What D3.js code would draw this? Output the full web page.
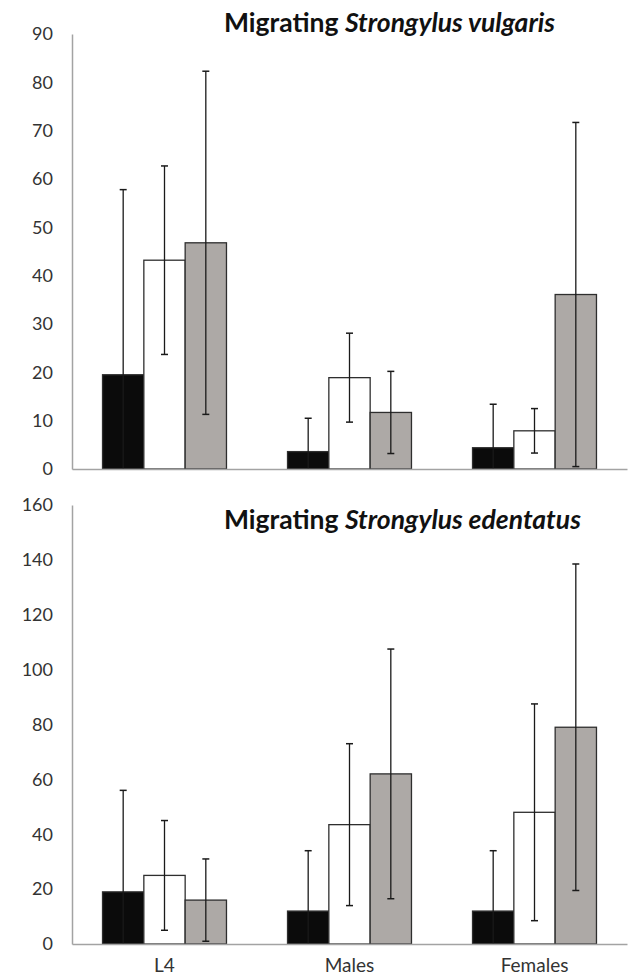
<!DOCTYPE html>
<html>
<head>
<meta charset="utf-8">
<script src="https://cdn.jsdelivr.net/npm/d3@7"></script>
<style>
  body { margin: 0; background: #fff; }
  svg { display: block; }
</style>
</head>
<body>
<svg id="chart" width="631" height="978"></svg>
<script>
// categories on the x axis (shared by both panels)
const categories = ["L4", "Males", "Females"];
// three groups per category: black, white, grey bars (no legend in the figure)
const seriesNames = ["Group 1", "Group 2", "Group 3"];

// S. vulgaris: means and error (±) per category, in series order
const vulgarisMeans  = [[19.5, 43.2, 46.8], [3.6, 18.9, 11.7], [4.4, 7.9, 36.1]];
const vulgarisErrors = [[38.3, 19.5, 35.5], [6.9, 9.2, 8.5], [9.0, 4.6, 35.6]];
const vulgarisTicks  = [0, 10, 20, 30, 40, 50, 60, 70, 80, 90];

// S. edentatus
const edentatusMeans  = [[19, 25, 16], [12, 43.5, 62], [12, 48, 79]];
const edentatusErrors = [[37, 20, 15], [22, 29.5, 45.5], [22, 39.5, 59.5]];
const edentatusTicks  = [0, 20, 40, 60, 80, 100, 120, 140, 160];

const fills = ["#0b0b0b", "#ffffff", "#ada9a6"];
const axisColor = "#a3a3a3";
const textColor = "#333";

const svg = d3.select("#chart");

function drawPanel(opts) {
  const { top, bottom, left, right, means, errors, ticks, title, titleY, showLabels } = opts;

  const x = d3.scaleBand()
    .domain(categories)
    .range([left, right])
    .paddingInner(0.33)
    .paddingOuter(0.165);

  const xs = d3.scaleBand()
    .domain(seriesNames)
    .range([0, x.bandwidth()]);

  const y = d3.scaleLinear()
    .domain([0, d3.max(ticks)])
    .range([bottom, top]);

  const g = svg.append("g");

  // flatten to one record per bar
  const rows = [];
  categories.forEach((cat, ci) => {
    seriesNames.forEach((s, si) => {
      rows.push({ cat, s, si, mean: means[ci][si], err: errors[ci][si] });
    });
  });

  g.selectAll("rect.bar")
    .data(rows)
    .join("rect")
    .attr("class", "bar")
    .attr("x", d => x(d.cat) + xs(d.s))
    .attr("y", d => y(d.mean))
    .attr("width", xs.bandwidth())
    .attr("height", d => y(0) - y(d.mean))
    .attr("fill", (d) => fills[d.si])
    .attr("stroke", "#2e2e2e")
    .attr("stroke-width", 1.3);

  // error bars, cut at the axis like excel does
  const capW = 3.5;
  const eb = g.selectAll("g.err")
    .data(rows)
    .join("g")
    .attr("class", "err")
    .attr("transform", d => `translate(${x(d.cat) + xs(d.s) + xs.bandwidth() / 2},0)`);

  eb.append("line")
    .attr("y1", d => y(Math.max(0, d.mean - d.err)))
    .attr("y2", d => y(d.mean + d.err))
    .attr("stroke", "#1a1a1a")
    .attr("stroke-width", 1.3);

  eb.append("line")
    .attr("x1", -capW).attr("x2", capW)
    .attr("y1", d => y(d.mean + d.err))
    .attr("y2", d => y(d.mean + d.err))
    .attr("stroke", "#1a1a1a")
    .attr("stroke-width", 1.5);

  eb.filter(d => d.mean - d.err >= 0)
    .append("line")
    .attr("x1", -capW).attr("x2", capW)
    .attr("y1", d => y(d.mean - d.err))
    .attr("y2", d => y(d.mean - d.err))
    .attr("stroke", "#1a1a1a")
    .attr("stroke-width", 1.5);

  // y axis
  const yAxis = g.append("g")
    .attr("transform", `translate(${left},0)`)
    .call(d3.axisLeft(y).tickValues(ticks).tickSize(0).tickSizeOuter(0).tickPadding(19));
  yAxis.select(".domain").attr("stroke", axisColor).attr("stroke-width", 1.5);
  yAxis.selectAll("text")
    .attr("font-family", "Lato, sans-serif")
    .attr("font-size", 18)
    .attr("fill", textColor);

  // x axis
  const xAxis = g.append("g")
    .attr("transform", `translate(0,${bottom})`)
    .call(d3.axisBottom(x).tickSize(0).tickSizeOuter(0).tickPadding(15));
  xAxis.select(".domain").attr("stroke", axisColor).attr("stroke-width", 1.5);
  xAxis.selectAll("text")
    .attr("font-family", "Lato, sans-serif")
    .attr("font-size", 19)
    .attr("fill", textColor)
    .style("display", showLabels ? null : "none");

  // title: "Migrating" upright, species name in italics
  const t = svg.append("text")
    .attr("x", 224)
    .attr("y", titleY)
    .attr("font-family", "Lato, sans-serif")
    .attr("font-weight", "bold")
    .attr("font-size", 26.5)
    .attr("fill", "#111");
  t.append("tspan").text("Migrating ");
  t.append("tspan").attr("font-style", "italic").text(title);
}

drawPanel({
  top: 34, bottom: 469, left: 72, right: 627,
  means: vulgarisMeans, errors: vulgarisErrors, ticks: vulgarisTicks,
  title: "Strongylus vulgaris", titleY: 32, showLabels: false
});

drawPanel({
  top: 505, bottom: 944, left: 72, right: 627,
  means: edentatusMeans, errors: edentatusErrors, ticks: edentatusTicks,
  title: "Strongylus edentatus", titleY: 529, showLabels: true
});
</script>
</body>
</html>
